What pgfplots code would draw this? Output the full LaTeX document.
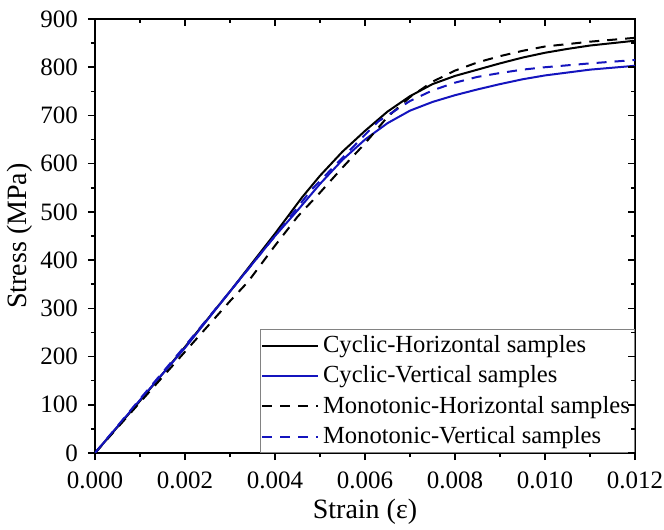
\documentclass[border=0pt]{standalone}
\usepackage{pgfplots}
\pgfplotsset{compat=1.18}
\usepackage{fontspec}
\setmainfont{Liberation Serif}
\definecolor{cblue}{RGB}{20,20,190}
\definecolor{lgray}{RGB}{130,130,130}
\begin{document}
\begin{tikzpicture}
\path[use as bounding box] (-47.5bp,-38.5bp) rectangle (284.5bp,226.5bp);
\pgfplotsset{
  myaxis/.style={
    at={(0,0)}, anchor=south west,
    scale only axis, width=270bp, height=217bp,
    xmin=0, xmax=0.012, ymin=0, ymax=900,
    xtick={0,0.002,...,0.012}, ytick={0,100,...,900},
    scaled x ticks=false, scaled y ticks=false,
    minor x tick num=1, minor y tick num=1,
    major tick length=3.5bp, minor tick length=2bp,
    every tick/.style={line width=0.8bp, black},
    axis line style={line width=1bp},
    /pgf/number format/assume math mode=true,
    tick label style={font=\fontsize{12.5bp}{14bp}\selectfont},
  }
}
\begin{axis}[myaxis,
  xtick pos=bottom, ytick pos=left, tick align=outside,
  xticklabel style={yshift=-2.5bp, /pgf/number format/.cd, fixed, fixed zerofill, precision=3},
  yticklabel style={xshift=-1.5bp, /pgf/number format/.cd, fixed, precision=0},
  xlabel={Strain (ε)}, ylabel={Stress (MPa)},
  label style={font=\fontsize{14bp}{16bp}\selectfont},
  xlabel style={yshift=2bp},
  ylabel style={yshift=-3bp},
  legend cell align=left,
  legend style={at={(rel axis cs:1,0)}, anchor=south east, draw=lgray, line width=0.6bp,
    font=\fontsize{12.3bp}{13bp}\selectfont, inner xsep=0.5bp, inner ysep=0.8bp,
    row sep=1.2bp, nodes={inner xsep=1.8bp}},
  legend image code/.code={\draw[#1] (0bp,0bp) -- (28bp,0bp);},
]
\addplot[black, line width=1bp] coordinates {
(0,0) (0.001,108) (0.002,220) (0.003,335) (0.004,455) (0.0046,530) (0.005,575)
(0.0055,625) (0.006,668) (0.0065,708) (0.007,740) (0.0075,765) (0.008,782)
(0.0085,795) (0.009,808) (0.0095,820) (0.010,830) (0.0105,838) (0.011,845) (0.012,855)};
\addlegendentry{Cyclic-Horizontal samples}
\addplot[cblue, line width=1bp] coordinates {
(0,0) (0.001,110) (0.002,218) (0.003,335) (0.004,450) (0.0045,503) (0.005,558)
(0.0055,608) (0.006,650) (0.0065,684) (0.007,710) (0.0075,728) (0.008,742)
(0.0085,754) (0.009,765) (0.0095,775) (0.010,783) (0.011,795) (0.012,803)};
\addlegendentry{Cyclic-Vertical samples}
\addplot[black, line width=1bp, dash pattern=on 5bp off 4bp] coordinates {
(0,0) (0.001,105) (0.002,210) (0.003,315) (0.0034,355) (0.004,430) (0.0045,490)
(0.005,540) (0.0055,592) (0.006,642) (0.0065,697) (0.007,738) (0.0075,770)
(0.008,793) (0.0085,810) (0.009,823) (0.0095,834) (0.010,843) (0.011,853) (0.012,861)};
\addlegendentry{Monotonic-Horizontal samples}
\addplot[cblue, line width=1bp, dash pattern=on 5bp off 4bp] coordinates {
(0,0) (0.001,112) (0.002,222) (0.003,335) (0.004,450) (0.0048,545) (0.0056,622)
(0.006,660) (0.0063,688) (0.007,730) (0.0075,752) (0.008,768) (0.0085,780)
(0.009,788) (0.0095,795) (0.010,800) (0.011,808) (0.012,815)};
\addlegendentry{Monotonic-Vertical samples}
\end{axis}
\begin{axis}[myaxis,
  xtick pos=top, ytick pos=right, tick align=inside,
  xticklabel=\empty, yticklabel=\empty, axis line style={draw=none},
]
\end{axis}
\end{tikzpicture}
\end{document}
